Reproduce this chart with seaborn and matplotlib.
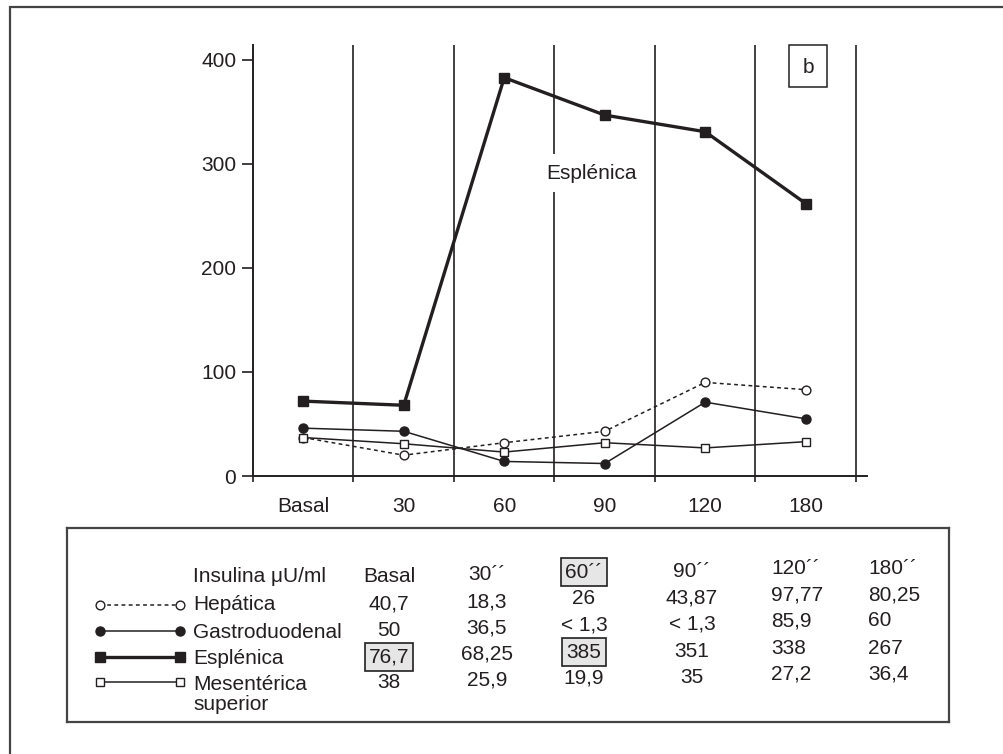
import matplotlib
matplotlib.use("Agg")
import numpy as np
import pandas as pd
import matplotlib.pyplot as plt
import seaborn as sns
from matplotlib.patches import Rectangle
from matplotlib.lines import Line2D

# ---------------- data ----------------
categories = ["Basal", "30", "60", "90", "120", "180"]
hepatica = [37, 20, 32, 43, 90, 83]
gastroduodenal = [46, 43, 14, 12, 71, 55]
esplenica = [72, 68, 383, 347, 331, 262]
mesenterica = [37, 31, 23, 32, 27, 33]
yticks = [0, 100, 200, 300, 400]

series_names = ["Hepática", "Gastroduodenal", "Esplénica", "Mesentérica superior"]
table_title = "Insulina μU/ml"
table_header = ["Basal", "30´´", "60´´", "90´´", "120´´", "180´´"]
table_labels = ["Hepática", "Gastroduodenal", "Esplénica", "Mesentérica\nsuperior"]
table_hep = ["40,7", "18,3", "26", "43,87", "97,77", "80,25"]
table_gas = ["50", "36,5", "< 1,3", "< 1,3", "85,9", "60"]
table_esp = ["76,7", "68,25", "385", "351", "338", "267"]
table_mes = ["38", "25,9", "19,9", "35", "27,2", "36,4"]
highlight = {(0, 2), (3, 0), (3, 2)}  # (row, col): header row = 0

panel_label = "b"
curve_label = "Esplénica"

# ---------------- style ----------------
sns.set_theme(style="white")
plt.rcParams['font.family'] = ['Liberation Sans', 'DejaVu Sans']
INK = '#231f20'
FS = 15

W, H = 1004, 754
def fx(px): return px / W
def fy(py): return 1 - py / H

fig = plt.figure(figsize=(W / 100, H / 100), dpi=100)

# outer frame (only left and top edges visible)
fig.patches.append(Rectangle((fx(10), -0.2), 1.5, fy(7) + 0.2, transform=fig.transFigure,
                             fill=False, ec='#444444', lw=1.6, clip_on=False))

ax = fig.add_axes([fx(253), fy(476), fx(867) - fx(253), fy(45) - fy(476)])
ax.set_facecolor('none')

x = np.arange(len(categories))
df = pd.DataFrame({
    "pos": np.tile(x, 4),
    "value": hepatica + gastroduodenal + esplenica + mesenterica,
    "serie": np.repeat(series_names, len(categories)),
})

styles = {
    "Hepática": dict(lw=1.1, ls=(0, (2.5, 2.2)), marker='o', ms=6.3, mfc='white', mec=INK, mew=1.0),
    "Gastroduodenal": dict(lw=1.1, ls='-', marker='o', ms=6.5, mfc=INK, mec=INK, mew=1.0),
    "Esplénica": dict(lw=2.4, ls='-', marker='s', ms=7.8, mfc=INK, mec=INK, mew=1.0),
    "Mesentérica superior": dict(lw=1.1, ls='-', marker='s', ms=5.6, mfc='white', mec=INK, mew=1.0),
}
zord = {"Hepática": 4, "Gastroduodenal": 5, "Esplénica": 6, "Mesentérica superior": 4}

for name in series_names:
    st = styles[name]
    sub = df[df["serie"] == name]
    sns.lineplot(data=sub, x="pos", y="value", ax=ax, color=INK, linewidth=st['lw'],
                 linestyle=st['ls'], marker=st['marker'], markersize=st['ms'],
                 markerfacecolor=st['mfc'], markeredgecolor=st['mec'],
                 markeredgewidth=st['mew'], zorder=zord[name], legend=False)

ymax = 414.4
ax.set_xlim(-0.5, len(categories) - 0.5 + 0.11)
ax.set_ylim(0, ymax)

# vertical separators
bounds = np.arange(len(categories)) + 0.5
ax.vlines(bounds, 0, ymax, color=INK, lw=1.2, zorder=1)

ax.set_xlabel("")
ax.set_ylabel("")
ax.set_yticks(yticks)
ax.set_yticklabels([str(v) for v in yticks], fontsize=FS, color=INK)
ax.set_xticks(x)
ax.set_xticklabels(categories, fontsize=FS, color=INK)
ax.set_xticks(np.arange(len(categories) + 1) - 0.5, minor=True)
ax.tick_params(axis='x', which='major', length=0, pad=15)
ax.tick_params(axis='x', which='minor', length=4, width=1.2, color=INK, direction='out', bottom=True)
ax.tick_params(axis='y', which='major', length=8, width=1.2, color=INK, direction='out', left=True, pad=4)
for s in ['top', 'right']:
    ax.spines[s].set_visible(False)
for s in ['left', 'bottom']:
    ax.spines[s].set_color(INK)
    ax.spines[s].set_linewidth(1.4)

ax.text(2.87, 291, curve_label, fontsize=FS, color=INK, ha='center', va='center', zorder=3,
        bbox=dict(boxstyle='square,pad=0.45', fc='white', ec='none'))

# panel label box
fig.patches.append(Rectangle((fx(789), fy(87)), fx(827) - fx(789), fy(45) - fy(87),
                             transform=fig.transFigure, fill=False, ec=INK, lw=1.1))
fig.text(fx(808), fy(73), panel_label, fontsize=FS, color=INK, ha='center', va='baseline')

# ---------------- table ----------------
tax = fig.add_axes([fx(67), fy(722), fx(949) - fx(67), fy(528) - fy(722)])
tax.set_xlim(67, 949)
tax.set_ylim(722, 528)
tax.set_xticks([])
tax.set_yticks([])
tax.set_facecolor('white')
for s in tax.spines.values():
    s.set_color('#444444')
    s.set_linewidth(1.6)
    s.set_visible(True)

row_y = [575, 602, 628, 655, 681]
col_x = [389, 487, 584, 692, 771, 868]
col_ha = ['center', 'center', 'center', 'center', 'left', 'left']
col_dy = [0, -2.5, -5, -5.5, -9, -9]
cap = 7.5

tax.text(193, 575 + cap, table_title, fontsize=FS, color=INK, ha='left', va='baseline')
label_y = [603, 630, 657, 682]
for lab, ly in zip(table_labels, label_y):
    for k, line in enumerate(lab.split("\n")):
        tax.text(193, ly + cap + k * 21, line, fontsize=FS, color=INK, ha='left', va='baseline')

rows = [table_header, table_hep, table_gas, table_esp, table_mes]
for r, vals in enumerate(rows):
    for c, v in enumerate(vals):
        kw = {}
        if (r, c) in highlight:
            kw['bbox'] = dict(boxstyle='square,pad=0.2', fc='#e6e6e6', ec=INK, lw=1.2)
        tax.text(col_x[c], row_y[r] + col_dy[c] + cap, v, fontsize=FS, color=INK,
                 ha=col_ha[c], va='baseline', **kw)

# legend samples
sample_y = [605, 631, 657, 682]
for name, sy in zip(series_names, sample_y):
    st = styles[name]
    tax.add_line(Line2D([100, 180], [sy, sy], color=INK, lw=st['lw'], ls=st['ls'],
                        marker=st['marker'], ms=st['ms'], mfc=st['mfc'], mec=st['mec'],
                        mew=st['mew']))

fig.savefig("out.png", dpi=100)
